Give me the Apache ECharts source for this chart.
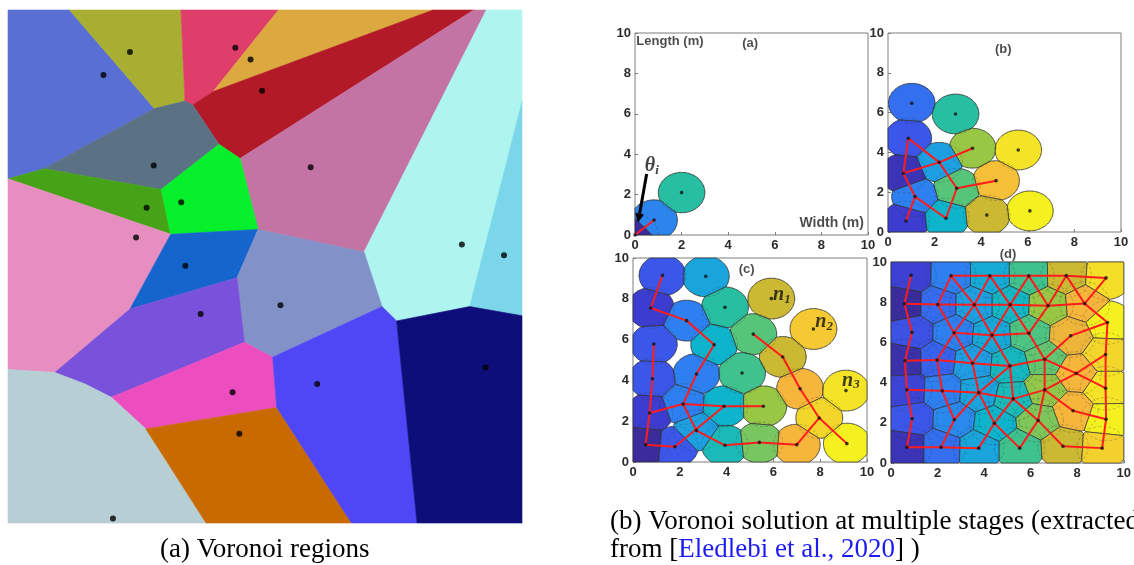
<!DOCTYPE html>
<html>
<head>
<meta charset="utf-8">
<script src="https://cdn.jsdelivr.net/npm/echarts@6/dist/echarts.min.js"></script>
<style>
  html, body { margin: 0; padding: 0; background: #ffffff; }
  #chart { width: 1134px; height: 565px; }
</style>
</head>
<body>
<div id="chart"></div>
<script>
// ---------------- Voronoi regions (0–100 square, y measured downward) ----------------
const voronoiVertices = {
  TL: [0, 0], A: [11.96, 0], B: [33.64, 0], C: [52.61, 0], D: [82.68, 0], E: [90.61, 0], F: [93.06, 0], G: [100, 0],
  H: [28.49, 19.21], I: [34.43, 17.75], J: [35.95, 18.54], K: [39.92, 15.89], L: [41.04, 26.16], M: [45.14, 28.94],
  N: [7.01, 30.93], O: [0, 32.91], P: [29.81, 34.97], Q: [31.66, 43.71], R: [48.65, 42.78], S: [69.27, 47.15],
  T: [100, 17.88], U: [44.55, 52.19], V: [23.73, 58.28], W: [72.77, 57.81], X: [75.61, 60.60], Y: [89.82, 57.81],
  Z: [100, 59.60], AA: [46.0, 64.77], AB: [51.49, 67.68], AC: [9.12, 70.66], AD: [0, 70.07], AE: [20.09, 75.50],
  AE2: [15.0, 72.9], AF: [26.83, 81.66], AG: [52.28, 77.48], AH: [38.53, 100], AI: [66.82, 100], AJ: [79.58, 100],
  AK: [100, 100], BL: [0, 100]
};
const voronoiRegions = [
  ['TL', 'A', 'H', 'N', 'O'],
  ['A', 'B', 'I', 'H'],
  ['B', 'C', 'K', 'J', 'I'],
  ['C', 'D', 'K'],
  ['D', 'E', 'M', 'L', 'J', 'K'],
  ['E', 'F', 'S', 'R', 'M'],
  ['F', 'G', 'T', 'Y', 'X', 'W', 'S'],
  ['T', 'Z', 'Y'],
  ['N', 'H', 'I', 'J', 'L', 'P'],
  ['O', 'N', 'P', 'Q'],
  ['P', 'L', 'M', 'R', 'Q'],
  ['O', 'Q', 'V', 'AC', 'AD'],
  ['Q', 'R', 'U', 'V'],
  ['R', 'S', 'W', 'AB', 'AA', 'U'],
  ['V', 'U', 'AA', 'AE', 'AE2', 'AC'],
  ['AE', 'AA', 'AB', 'AG', 'AF'],
  ['AD', 'AC', 'AE2', 'AE', 'AF', 'AH', 'BL'],
  ['AF', 'AG', 'AI', 'AH'],
  ['AB', 'W', 'X', 'AJ', 'AI', 'AG'],
  ['X', 'Y', 'Z', 'AK', 'AJ']
];
const voronoiSeeds = [
  [18.57, 12.65], [23.73, 8.21], [44.22, 7.35], [47.19, 9.67], [49.44, 15.76],
  [58.89, 30.66], [88.30, 45.70], [96.50, 47.81], [28.35, 30.33], [26.97, 38.54],
  [33.71, 37.48], [24.92, 44.37], [34.50, 49.87], [53.01, 57.55], [37.48, 59.27],
  [43.69, 74.50], [20.42, 99.14], [45.01, 82.58], [60.15, 72.91], [92.93, 69.67]
];

// ---------------- Sensor nodes per stage: [x (m), y (m), colour level 0–12] ----------------
const stageANodes = [[0, 0, 0], [0.82, 0.74, 3.2], [2.0, 2.1, 6]];
const stageALinks = [[0, 1]];

const stageBNodes = [
  [1.02, 6.47, 2.6], [2.90, 5.93, 6], [0.87, 4.71, 2], [3.63, 4.21, 8], [5.59, 4.12, 11.5],
  [2.20, 3.50, 4], [0.66, 2.95, 0.5], [2.95, 2.20, 7], [4.64, 2.58, 10.3], [1.16, 1.78, 3],
  [0.77, 0.55, 1], [2.49, 0.69, 5], [4.24, 0.85, 9], [6.09, 1.06, 12]
];
const stageBLinks = [[2, 6], [2, 5], [5, 7], [6, 5], [5, 3], [6, 9], [9, 10], [9, 11], [11, 7], [7, 8]];

const stageCNodes = [
  [1.26, 9.15, 2], [3.11, 9.10, 4.3], [0.76, 7.55, 1], [2.29, 6.93, 3], [3.93, 7.58, 6],
  [5.91, 8.01, 9], [7.71, 6.52, 10.6], [0.89, 5.78, 2], [3.47, 5.75, 5], [5.14, 6.27, 7],
  [6.40, 5.15, 9], [0.83, 4.08, 2], [2.71, 4.31, 3], [4.66, 4.36, 6.5], [7.14, 3.59, 10],
  [9.10, 3.50, 11.5], [0.71, 2.40, 1], [2.14, 2.84, 3], [3.89, 2.73, 5], [5.57, 2.73, 8],
  [7.96, 2.16, 11], [0.54, 0.85, 0], [1.79, 0.75, 2], [2.71, 1.54, 4], [3.93, 0.82, 5.5],
  [5.40, 0.96, 7.5], [7.00, 0.85, 10], [9.14, 0.90, 12]
];
const stageCLinks = [
  [0, 2], [2, 3], [3, 8], [8, 12], [12, 17], [7, 11], [11, 16], [16, 21], [16, 17], [17, 18],
  [18, 19], [21, 22], [22, 18], [17, 23], [23, 24], [24, 25], [25, 26], [26, 20], [20, 14],
  [14, 10], [10, 9], [20, 27]
];
const stageCTags = [[6.36, 8.2, '1'], [8.17, 6.86, '2'], [9.31, 3.99, '3']];

const stageDNodes = [
  [0.86, 9.34, 1.2], [2.58, 9.31, 3], [4.25, 9.31, 4.5], [5.92, 9.31, 6.5], [7.53, 9.32, 9], [9.24, 9.21, 11.3],
  [0.58, 7.92, 0], [2.01, 7.88, 2.5], [3.58, 7.87, 4], [5.12, 7.87, 5.2], [6.75, 7.82, 8], [8.32, 7.93, 10],
  [9.30, 6.99, 12],
  [0.90, 6.50, 1.8], [2.71, 6.48, 3], [4.34, 6.36, 4.4], [5.92, 6.45, 6.8], [7.72, 6.33, 9.8],
  [0.60, 5.09, 0.3], [1.98, 5.12, 2.3], [3.50, 4.96, 3.9], [5.11, 4.83, 5.3], [6.60, 5.16, 7.2], [7.96, 4.46, 10], [9.22, 5.40, 11],
  [0.68, 3.64, 1.3], [2.20, 3.59, 3], [3.77, 3.50, 4.2], [5.25, 3.19, 5.5], [6.60, 3.64, 7.9], [9.22, 3.72, 11.5],
  [7.82, 2.60, 10],
  [0.91, 2.20, 2], [2.72, 2.15, 3.3], [4.44, 1.98, 5], [6.32, 2.12, 7.6], [9.24, 2.18, 12],
  [0.68, 0.78, 0.5], [2.15, 0.78, 2.6], [3.77, 0.74, 4.3], [5.53, 0.74, 6.5], [7.39, 0.83, 9], [9.07, 0.74, 10.8]
];
const stageDLinks = [
  [0, 6], [6, 13], [13, 18], [18, 25], [25, 32], [32, 37], [37, 38], [38, 39],
  [1, 2], [2, 3], [3, 4], [4, 5],
  [6, 7], [7, 8], [8, 9], [9, 10], [10, 11], [11, 12],
  [1, 7], [1, 8], [2, 8], [2, 9], [3, 9], [3, 10], [4, 10], [4, 11], [5, 11],
  [7, 14], [8, 14], [8, 15], [9, 15], [9, 16], [10, 16],
  [14, 15], [15, 16], [12, 17],
  [14, 19], [14, 20], [15, 20], [15, 21], [16, 22], [17, 22],
  [18, 19], [19, 20], [20, 21], [21, 22],
  [22, 23], [23, 30], [24, 23], [23, 29],
  [19, 26], [20, 27], [21, 27], [21, 28], [22, 29],
  [25, 26], [26, 27], [27, 28], [28, 29],
  [29, 31], [31, 36],
  [26, 33], [27, 33], [27, 34], [28, 34], [28, 35], [29, 35],
  [33, 38], [34, 39], [34, 40], [35, 40], [35, 41],
  [41, 42], [12, 24], [24, 30], [30, 36], [36, 42]
];

const axisTicks = [0, 2, 4, 6, 8, 10];
// sensing radius (m) used in each stage
const stageRadius = [1.0, 1.0, 1.0, 1.08];

// ---------------- Styling ----------------
const regionPalette = [
  '#5a6fd3', '#a8ae32', '#df3e6a', '#dca840', '#b21a27', '#c474a4', '#aef5f0', '#7bd6ea',
  '#5b7184', '#46a318', '#05f02a', '#e78ec0', '#1565cd', '#8391c9', '#7951da', '#ec4dbf',
  '#b7ced5', '#c96a00', '#4f47f5', '#0e0e7a'
];
const levelPalette = ['#3a2c9c', '#3c3ccf', '#3b57ea', '#2e7ff0', '#1e9fe2', '#0eb4cc', '#28bea2',
  '#56c57a', '#98c645', '#cbb833', '#f6b63c', '#f3d62c', '#f5f020'];

function hexRgb(h) { return [1, 3, 5].map(k => parseInt(h.substr(k, 2), 16)); }
function levelColor(l) {
  const i = Math.max(0, Math.min(levelPalette.length - 1, Math.floor(l)));
  if (i >= levelPalette.length - 1) return levelPalette[levelPalette.length - 1];
  const f = l - i, a = hexRgb(levelPalette[i]), b = hexRgb(levelPalette[i + 1]);
  const c = a.map((v, k) => Math.round(v + (b[k] - v) * f));
  return 'rgb(' + c.join(',') + ')';
}

// keep points with a*x + b*y <= c
function clipHalf(poly, a, b, c) {
  const out = [];
  for (let k = 0; k < poly.length; k++) {
    const P = poly[k], Q = poly[(k + 1) % poly.length];
    const fp = a * P[0] + b * P[1] - c, fq = a * Q[0] + b * Q[1] - c;
    if (fp <= 0) out.push(P);
    if ((fp < 0 && fq > 0) || (fp > 0 && fq < 0)) {
      const t = fp / (fp - fq);
      out.push([P[0] + t * (Q[0] - P[0]), P[1] + t * (Q[1] - P[1])]);
    }
  }
  return out;
}

// sensing disc of node i, cut by its Voronoi neighbours and by the room walls
function cellPolygon(nodes, i, R) {
  const [cx, cy] = nodes[i], n = 96;
  let poly = [];
  for (let k = 0; k < n; k++) {
    const t = 2 * Math.PI * k / n;
    poly.push([cx + R * Math.cos(t), cy + R * Math.sin(t)]);
  }
  poly = clipHalf(poly, -1, 0, 0);
  poly = clipHalf(poly, 1, 0, 10);
  poly = clipHalf(poly, 0, -1, 0);
  poly = clipHalf(poly, 0, 1, 10);
  nodes.forEach((o, j) => {
    if (j === i) return;
    const dx = o[0] - cx, dy = o[1] - cy;
    if (Math.hypot(dx, dy) >= 2 * R) return;
    const mx = (o[0] + cx) / 2, my = (o[1] + cy) / 2;
    poly = clipHalf(poly, dx, dy, dx * mx + dy * my);
  });
  return poly;
}

function circleRuns(cx, cy, R) {
  const n = 120, pts = [];
  for (let k = 0; k < n; k++) {
    const t = 2 * Math.PI * k / n;
    pts.push([cx + R * Math.cos(t), cy + R * Math.sin(t)]);
  }
  const inBox = p => p[0] >= 0 && p[0] <= 10 && p[1] >= 0 && p[1] <= 10;
  const start = pts.findIndex(p => !inBox(p));
  if (start < 0) return [pts.concat([pts[0]])];
  const runs = [];
  let cur = [];
  for (let k = 0; k <= n; k++) {
    const p = pts[(start + k) % n];
    if (inBox(p)) cur.push(p);
    else { if (cur.length > 1) runs.push(cur); cur = []; }
  }
  if (cur.length > 1) runs.push(cur);
  return runs;
}

const tickFont = { fontFamily: 'Liberation Sans, Arial, sans-serif', fontWeight: 'bold', fontSize: 13, color: '#2b2b2b' };
const frameColor = '#7d7d7d';

const grids = [
  { left: 8, top: 10, width: 514, height: 513 },
  { left: 635, top: 33, width: 233, height: 202 },
  { left: 888, top: 33, width: 233, height: 199 },
  { left: 633, top: 258, width: 234, height: 204 },
  { left: 891, top: 262, width: 233, height: 201 }
].map((g, k) => Object.assign({ show: k > 0, borderColor: frameColor, borderWidth: 1 }, g));

function stageAxis(idx) {
  return {
    type: 'value', gridIndex: idx, min: axisTicks[0], max: axisTicks[axisTicks.length - 1],
    interval: axisTicks[1] - axisTicks[0],
    axisLine: { show: false },
    axisTick: { show: true, inside: true, length: 3, lineStyle: { color: frameColor } },
    splitLine: { show: false },
    axisLabel: Object.assign({ margin: 4 }, tickFont)
  };
}
const xAxes = [{ type: 'value', gridIndex: 0, min: 0, max: 100, show: false }];
const yAxes = [{ type: 'value', gridIndex: 0, min: 0, max: 100, inverse: true, show: false }];
for (let k = 1; k < 5; k++) { xAxes.push(stageAxis(k)); yAxes.push(stageAxis(k)); }

const series = [];

// Voronoi regions and their seeds
series.push({
  type: 'custom', xAxisIndex: 0, yAxisIndex: 0, z: 1,
  data: voronoiSeeds, encode: { x: 0, y: 1 },
  renderItem: (params, api) => {
    const pts = voronoiRegions[params.dataIndex].map(k => api.coord(voronoiVertices[k]));
    const c = regionPalette[params.dataIndex];
    return { type: 'polygon', shape: { points: pts }, style: { fill: c, stroke: c, lineWidth: 0.6 } };
  }
});
series.push({
  type: 'scatter', xAxisIndex: 0, yAxisIndex: 0, z: 3, data: voronoiSeeds,
  symbolSize: 6, itemStyle: { color: '#000000' }
});

function addStage(idx, nodes, links) {
  const R = stageRadius[idx - 1];
  series.push({
    type: 'custom', xAxisIndex: idx, yAxisIndex: idx, z: 2,
    data: nodes.map(n => [n[0], n[1]]), encode: { x: 0, y: 1 },
    renderItem: (params, api) => {
      const i = params.dataIndex;
      const pts = cellPolygon(nodes, i, R).map(p => api.coord(p));
      return {
        type: 'polygon', shape: { points: pts },
        style: { fill: levelColor(nodes[i][2]), stroke: 'rgba(45,45,45,0.85)', lineWidth: 0.8 }
      };
    }
  });
  series.push({
    type: 'custom', xAxisIndex: idx, yAxisIndex: idx, z: 3,
    data: nodes.map(n => [n[0], n[1]]), encode: { x: 0, y: 1 },
    renderItem: (params, api) => {
      const n = nodes[params.dataIndex];
      return {
        type: 'group',
        children: circleRuns(n[0], n[1], R).map(run => ({
          type: 'polyline', shape: { points: run.map(p => api.coord(p)) },
          style: { stroke: 'rgba(40,40,40,0.35)', lineWidth: 0.7, lineDash: [3, 2], fill: null }
        }))
      };
    }
  });
  series.push({
    type: 'custom', xAxisIndex: idx, yAxisIndex: idx, z: 4,
    data: links.map(([a, b]) => [nodes[a][0], nodes[a][1], nodes[b][0], nodes[b][1]]),
    encode: { x: [0, 2], y: [1, 3] },
    renderItem: (params, api) => {
      const p1 = api.coord([api.value(0), api.value(1)]);
      const p2 = api.coord([api.value(2), api.value(3)]);
      return {
        type: 'line', shape: { x1: p1[0], y1: p1[1], x2: p2[0], y2: p2[1] },
        style: { stroke: '#ff1c1c', lineWidth: 2 }
      };
    }
  });
  series.push({
    type: 'scatter', xAxisIndex: idx, yAxisIndex: idx, z: 5, clip: true,
    data: nodes.map(n => [n[0], n[1]]), symbolSize: 3.6, itemStyle: { color: '#111111' }
  });
}
addStage(1, stageANodes, stageALinks);
addStage(2, stageBNodes, stageBLinks);
addStage(3, stageCNodes, stageCLinks);
addStage(4, stageDNodes, stageDLinks);

// direction arrow for the angle θi
series.push({
  type: 'custom', xAxisIndex: 1, yAxisIndex: 1, z: 6,
  data: [[0.50, 3.02, 0.13, 0.62]], encode: { x: [0, 2], y: [1, 3] },
  renderItem: (params, api) => {
    const p1 = api.coord([api.value(0), api.value(1)]);
    const p2 = api.coord([api.value(2), api.value(3)]);
    const dx = p2[0] - p1[0], dy = p2[1] - p1[1], L = Math.hypot(dx, dy);
    const ux = dx / L, uy = dy / L, hl = 9, hw = 4.5;
    const bx = p2[0] - ux * hl, by = p2[1] - uy * hl;
    return {
      type: 'group', children: [
        { type: 'line', shape: { x1: p1[0], y1: p1[1], x2: bx, y2: by }, style: { stroke: '#000', lineWidth: 3 } },
        { type: 'polygon', shape: { points: [p2, [bx - uy * hw, by + ux * hw], [bx + uy * hw, by - ux * hw]] }, style: { fill: '#000' } }
      ]
    };
  }
});

// in-plot annotations
const boldSans = { fontFamily: 'Liberation Sans, Arial, sans-serif', fontWeight: 'bold', fontSize: 13, color: '#1e1e1e' };
const mathRich = {
  t: { fontFamily: 'Liberation Serif, Times New Roman, serif', fontStyle: 'italic', fontWeight: 'bold', fontSize: 20, color: '#111' },
  s: { fontFamily: 'Liberation Serif, Times New Roman, serif', fontStyle: 'italic', fontWeight: 'bold', fontSize: 13, color: '#111', padding: [9, 0, 0, 0] }
};
function textMarks(idx, items) {
  series.push({
    type: 'scatter', xAxisIndex: idx, yAxisIndex: idx, z: 7, clip: false, symbolSize: 0, silent: true,
    data: items.map(it => ({
      value: [it[0], it[1]],
      label: Object.assign({ show: true, position: 'inside', formatter: it[2] }, it[3])
    }))
  });
}
textMarks(1, [
  [1.50, 9.57, 'Length (m)', boldSans],
  [4.94, 9.49, '(a)', boldSans],
  [8.44, 0.58, 'Width (m)', Object.assign({}, boldSans, { fontSize: 14 })],
  [0.72, 3.40, '{t|θ}{s|i}', { rich: mathRich }]
]);
textMarks(2, [[4.95, 9.18, '(b)', boldSans]]);
textMarks(3, [[4.86, 9.43, '(c)', boldSans]].concat(
  stageCTags.map(t => [t[0], t[1], '{t|n}{s|' + t[2] + '}', { rich: mathRich }])));
textMarks(4, [[5.03, 10.38, '(d)', boldSans]]);

const captionFont = 'Liberation Serif, Times New Roman, serif';
const option = {
  animation: false,
  backgroundColor: '#ffffff',
  grid: grids,
  xAxis: xAxes,
  yAxis: yAxes,
  series: series,
  graphic: [
    { type: 'text', left: 160, top: 536, style: { text: '(a) Voronoi regions', font: '27px ' + captionFont, fill: '#000' } },
    { type: 'text', left: 610, top: 508, style: { text: '(b) Voronoi solution at multiple stages (extracted', font: '27px ' + captionFont, fill: '#000' } },
    {
      type: 'text', left: 610, top: 536, style: {
        text: '{k|from [}{b|Eledlebi et al., 2020}{k|] )}',
        rich: {
          k: { fontFamily: captionFont, fontSize: 27, fill: '#000000' },
          b: { fontFamily: captionFont, fontSize: 27, fill: '#1c1cf2' }
        }
      }
    }
  ]
};

const chart = echarts.init(document.getElementById('chart'), null, { renderer: 'canvas' });
chart.setOption(option);
</script>
</body>
</html>
